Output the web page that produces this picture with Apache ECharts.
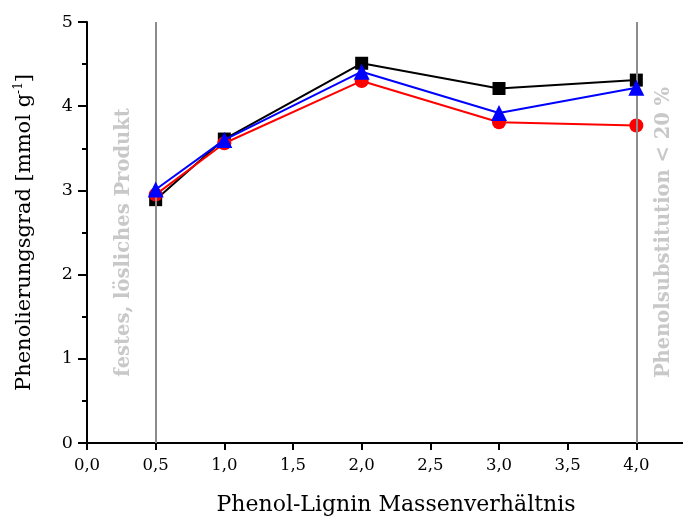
<!DOCTYPE html>
<html>
<head>
<meta charset="utf-8">
<script src="https://cdn.jsdelivr.net/npm/echarts@6/dist/echarts.min.js"></script>
<style>html,body{margin:0;padding:0;background:#fff}#c{width:683px;height:516px}</style>
</head>
<body>
<div id="c"></div>
<script>
const ratios = [0.5, 1.0, 2.0, 3.0, 4.0];
const seriesBlack = [2.89, 3.61, 4.51, 4.21, 4.31];
const seriesRed = [2.95, 3.56, 4.30, 3.81, 3.77];
const seriesBlue = [3.01, 3.60, 4.41, 3.92, 4.22];
const refLines = [0.5, 4.0];
const refTexts = ['festes, lösliches Produkt', 'Phenolsubstitution < 20 %'];
const xTitle = 'Phenol-Lignin Massenverhältnis';
const yTitle = 'Phenolierungsgrad [mmol g';

const FONT = 'DejaVu Serif';
const chart = echarts.init(document.getElementById('c'), null, {renderer: 'canvas'});
const pairs = arr => ratios.map((x, i) => [x, arr[i]]);

chart.setOption({
  animation: false,
  backgroundColor: '#fff',
  grid: {left: 87, width: 618, top: 22, height: 421, containLabel: false, outerBoundsMode: 'none'},
  xAxis: {
    type: 'value', min: 0, max: 4.5, interval: 0.5,
    axisLine: {onZero: false, lineStyle: {color: '#000', width: 2}},
    axisTick: {inside: false, length: 7, lineStyle: {color: '#000', width: 2}},
    splitLine: {show: false},
    axisLabel: {color: '#000', fontFamily: FONT, fontSize: 16.5, margin: 14,
      formatter: v => v.toFixed(1).replace('.', ',')},
    name: xTitle, nameLocation: 'middle', nameGap: 51,
    nameTextStyle: {color: '#000', fontFamily: FONT, fontSize: 22}
  },
  yAxis: {
    type: 'value', min: 0, max: 5, interval: 1,
    axisLine: {show: true, lineStyle: {color: '#000', width: 2}},
    axisTick: {show: true, inside: false, length: 9, lineStyle: {color: '#000', width: 2}},
    minorTick: {show: true, splitNumber: 2, length: 5, lineStyle: {color: '#000', width: 2}},
    splitLine: {show: false},
    axisLabel: {color: '#000', fontFamily: FONT, fontSize: 17.5, margin: 14},
    name: '{a|' + yTitle + '}{s|-1}{a|]}', nameLocation: 'middle', nameGap: 51,
    nameTextStyle: {color: '#000', fontFamily: FONT, fontSize: 21,
      rich: {
        a: {fontFamily: FONT, fontSize: 21, color: '#000'},
        s: {fontFamily: FONT, fontSize: 12, color: '#000', verticalAlign: 'bottom', padding: [0, 0, 11, 0]}
      }}
  },
  series: [
    {
      type: 'line', data: pairs(seriesBlack), symbol: 'rect', symbolSize: 13,
      itemStyle: {color: '#000'}, lineStyle: {color: '#000', width: 2}, z: 3,
      markLine: {
        silent: true, symbol: 'none', animation: false,
        lineStyle: {color: '#8c8c8c', width: 2, type: 'solid'},
        label: {show: true, fontFamily: FONT, fontWeight: 'bold', fontSize: 19.5, color: '#c8c8c8'},
        data: [
          {xAxis: refLines[0], label: {formatter: refTexts[0], position: 'insideMiddleTop', distance: 22, padding: [0, 20, 0, 0]}},
          {xAxis: refLines[1], label: {formatter: refTexts[1], position: 'insideMiddleBottom', distance: 18}}
        ]
      }
    },
    {
      type: 'line', data: pairs(seriesRed), symbol: 'circle', symbolSize: 14,
      itemStyle: {color: '#ff0000'}, lineStyle: {color: '#ff0000', width: 2}, z: 4
    },
    {
      type: 'line', data: pairs(seriesBlue), symbol: 'triangle', symbolSize: 16,
      itemStyle: {color: '#0000ff'}, lineStyle: {color: '#0000ff', width: 2}, z: 5
    }
  ]
});
</script>
</body>
</html>
